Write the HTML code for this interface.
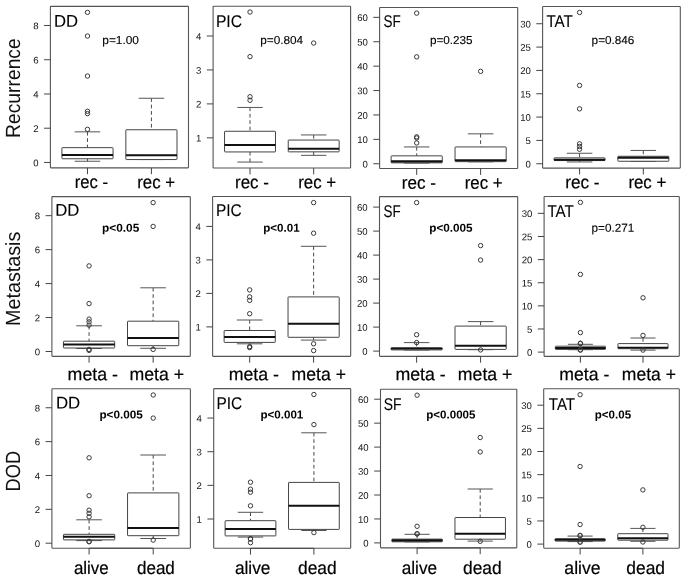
<!DOCTYPE html>
<html><head><meta charset="utf-8"><title>Boxplots</title>
<style>html,body{margin:0;padding:0;background:#fff}body{width:685px;height:579px;overflow:hidden;font-family:"Liberation Sans",sans-serif}</style></head>
<body>
<svg width="685" height="579" viewBox="0 0 685 579" style="display:block;will-change:transform" font-family="Liberation Sans, sans-serif">
<rect width="685" height="579" fill="#fff"/>
<g transform="translate(0,0.35)">
<rect x="50.40" y="6.00" width="138.10" height="161.50" fill="none" stroke="#555" stroke-width="1.1" rx="0.6"/>
<line x1="87.48" y1="167.50" x2="87.48" y2="173.80" stroke="#444" stroke-width="1.0"/>
<line x1="151.42" y1="167.50" x2="151.42" y2="173.80" stroke="#444" stroke-width="1.0"/>
<line x1="44.10" y1="162.10" x2="50.40" y2="162.10" stroke="#444" stroke-width="1.0"/>
<text x="38.60" y="165.80" transform="rotate(0.03 38.60 165.80)" font-size="9.6" text-anchor="end" fill="#111">0</text>
<line x1="44.10" y1="127.86" x2="50.40" y2="127.86" stroke="#444" stroke-width="1.0"/>
<text x="38.60" y="131.56" transform="rotate(0.03 38.60 131.56)" font-size="9.6" text-anchor="end" fill="#111">2</text>
<line x1="44.10" y1="93.62" x2="50.40" y2="93.62" stroke="#444" stroke-width="1.0"/>
<text x="38.60" y="97.32" transform="rotate(0.03 38.60 97.32)" font-size="9.6" text-anchor="end" fill="#111">4</text>
<line x1="44.10" y1="59.38" x2="50.40" y2="59.38" stroke="#444" stroke-width="1.0"/>
<text x="38.60" y="63.08" transform="rotate(0.03 38.60 63.08)" font-size="9.6" text-anchor="end" fill="#111">6</text>
<line x1="44.10" y1="25.14" x2="50.40" y2="25.14" stroke="#444" stroke-width="1.0"/>
<text x="38.60" y="28.84" transform="rotate(0.03 38.60 28.84)" font-size="9.6" text-anchor="end" fill="#111">8</text>
<line x1="87.48" y1="131.50" x2="87.48" y2="147.30" stroke="#333" stroke-width="0.9" stroke-dasharray="3.7 2.7"/>
<line x1="87.48" y1="160.90" x2="87.48" y2="158.40" stroke="#333" stroke-width="0.9" stroke-dasharray="3.7 2.7"/>
<line x1="74.70" y1="131.50" x2="100.27" y2="131.50" stroke="#555" stroke-width="1.0"/>
<line x1="74.70" y1="160.90" x2="100.27" y2="160.90" stroke="#555" stroke-width="1.0"/>
<rect x="61.91" y="147.30" width="51.15" height="11.10" fill="#fff" stroke="#444" stroke-width="1.0" rx="0.5"/>
<line x1="61.91" y1="154.70" x2="113.06" y2="154.70" stroke="#111" stroke-width="2.0"/>
<circle cx="87.48" cy="129.00" r="2.2" fill="none" stroke="#3a3a3a" stroke-width="1.0"/>
<circle cx="87.48" cy="113.30" r="2.2" fill="none" stroke="#3a3a3a" stroke-width="1.0"/>
<circle cx="87.48" cy="110.90" r="2.2" fill="none" stroke="#3a3a3a" stroke-width="1.0"/>
<circle cx="87.48" cy="75.70" r="2.2" fill="none" stroke="#3a3a3a" stroke-width="1.0"/>
<circle cx="87.48" cy="35.70" r="2.2" fill="none" stroke="#3a3a3a" stroke-width="1.0"/>
<circle cx="87.48" cy="12.00" r="2.2" fill="none" stroke="#3a3a3a" stroke-width="1.0"/>
<line x1="151.42" y1="97.90" x2="151.42" y2="129.40" stroke="#333" stroke-width="0.9" stroke-dasharray="3.7 2.7"/>
<line x1="151.42" y1="159.20" x2="151.42" y2="159.20" stroke="#333" stroke-width="0.9" stroke-dasharray="3.7 2.7"/>
<line x1="138.63" y1="97.90" x2="164.20" y2="97.90" stroke="#555" stroke-width="1.0"/>
<line x1="138.63" y1="159.20" x2="164.20" y2="159.20" stroke="#555" stroke-width="1.0"/>
<rect x="125.84" y="129.40" width="51.15" height="29.80" fill="#fff" stroke="#444" stroke-width="1.0" rx="0.5"/>
<line x1="125.84" y1="155.00" x2="176.99" y2="155.00" stroke="#111" stroke-width="2.0"/>
<text x="53.97" y="26.30" transform="rotate(0.03 53.97 26.30)" font-size="17" fill="#000" stroke="#000" stroke-width="0.1" textLength="24.09" lengthAdjust="spacingAndGlyphs">DD</text>
<text x="102.28" y="43.65" transform="rotate(0.03 102.28 43.65)" font-size="11.5" fill="#000" stroke="#000" stroke-width="0.12" textLength="36.73" lengthAdjust="spacingAndGlyphs">p=1.00</text>
<rect x="213.10" y="5.90" width="137.50" height="161.80" fill="none" stroke="#555" stroke-width="1.1" rx="0.6"/>
<line x1="250.02" y1="167.70" x2="250.02" y2="174.00" stroke="#444" stroke-width="1.0"/>
<line x1="313.68" y1="167.70" x2="313.68" y2="174.00" stroke="#444" stroke-width="1.0"/>
<line x1="206.80" y1="137.50" x2="213.10" y2="137.50" stroke="#444" stroke-width="1.0"/>
<text x="201.30" y="141.20" transform="rotate(0.03 201.30 141.20)" font-size="9.6" text-anchor="end" fill="#111">1</text>
<line x1="206.80" y1="103.55" x2="213.10" y2="103.55" stroke="#444" stroke-width="1.0"/>
<text x="201.30" y="107.25" transform="rotate(0.03 201.30 107.25)" font-size="9.6" text-anchor="end" fill="#111">2</text>
<line x1="206.80" y1="69.60" x2="213.10" y2="69.60" stroke="#444" stroke-width="1.0"/>
<text x="201.30" y="73.30" transform="rotate(0.03 201.30 73.30)" font-size="9.6" text-anchor="end" fill="#111">3</text>
<line x1="206.80" y1="35.65" x2="213.10" y2="35.65" stroke="#444" stroke-width="1.0"/>
<text x="201.30" y="39.35" transform="rotate(0.03 201.30 39.35)" font-size="9.6" text-anchor="end" fill="#111">4</text>
<line x1="250.02" y1="107.10" x2="250.02" y2="130.90" stroke="#333" stroke-width="0.9" stroke-dasharray="3.7 2.7"/>
<line x1="250.02" y1="161.70" x2="250.02" y2="151.60" stroke="#333" stroke-width="0.9" stroke-dasharray="3.7 2.7"/>
<line x1="237.29" y1="107.10" x2="262.75" y2="107.10" stroke="#555" stroke-width="1.0"/>
<line x1="237.29" y1="161.70" x2="262.75" y2="161.70" stroke="#555" stroke-width="1.0"/>
<rect x="224.56" y="130.90" width="50.93" height="20.70" fill="#fff" stroke="#444" stroke-width="1.0" rx="0.5"/>
<line x1="224.56" y1="144.60" x2="275.48" y2="144.60" stroke="#111" stroke-width="2.0"/>
<circle cx="250.02" cy="99.90" r="2.2" fill="none" stroke="#3a3a3a" stroke-width="1.0"/>
<circle cx="250.02" cy="96.40" r="2.2" fill="none" stroke="#3a3a3a" stroke-width="1.0"/>
<circle cx="250.02" cy="56.30" r="2.2" fill="none" stroke="#3a3a3a" stroke-width="1.0"/>
<circle cx="250.02" cy="11.70" r="2.2" fill="none" stroke="#3a3a3a" stroke-width="1.0"/>
<line x1="313.68" y1="134.60" x2="313.68" y2="139.70" stroke="#333" stroke-width="0.9" stroke-dasharray="3.7 2.7"/>
<line x1="313.68" y1="155.00" x2="313.68" y2="151.50" stroke="#333" stroke-width="0.9" stroke-dasharray="3.7 2.7"/>
<line x1="300.95" y1="134.60" x2="326.41" y2="134.60" stroke="#555" stroke-width="1.0"/>
<line x1="300.95" y1="155.00" x2="326.41" y2="155.00" stroke="#555" stroke-width="1.0"/>
<rect x="288.22" y="139.70" width="50.93" height="11.80" fill="#fff" stroke="#444" stroke-width="1.0" rx="0.5"/>
<line x1="288.22" y1="148.30" x2="339.14" y2="148.30" stroke="#111" stroke-width="2.0"/>
<circle cx="313.68" cy="42.70" r="2.2" fill="none" stroke="#3a3a3a" stroke-width="1.0"/>
<text x="215.90" y="26.20" transform="rotate(0.03 215.90 26.20)" font-size="17" fill="#000" stroke="#000" stroke-width="0.1" textLength="26.18" lengthAdjust="spacingAndGlyphs">PIC</text>
<text x="260.29" y="43.65" transform="rotate(0.03 260.29 43.65)" font-size="11.5" fill="#000" stroke="#000" stroke-width="0.12" textLength="42.82" lengthAdjust="spacingAndGlyphs">p=0.804</text>
<rect x="379.60" y="7.10" width="138.10" height="161.10" fill="none" stroke="#555" stroke-width="1.1" rx="0.6"/>
<line x1="416.68" y1="168.20" x2="416.68" y2="174.50" stroke="#444" stroke-width="1.0"/>
<line x1="480.62" y1="168.20" x2="480.62" y2="174.50" stroke="#444" stroke-width="1.0"/>
<line x1="373.30" y1="163.40" x2="379.60" y2="163.40" stroke="#444" stroke-width="1.0"/>
<text x="367.80" y="167.10" transform="rotate(0.03 367.80 167.10)" font-size="9.6" text-anchor="end" fill="#111">0</text>
<line x1="373.30" y1="139.00" x2="379.60" y2="139.00" stroke="#444" stroke-width="1.0"/>
<text x="367.80" y="142.70" transform="rotate(0.03 367.80 142.70)" font-size="9.6" text-anchor="end" fill="#111">10</text>
<line x1="373.30" y1="114.60" x2="379.60" y2="114.60" stroke="#444" stroke-width="1.0"/>
<text x="367.80" y="118.30" transform="rotate(0.03 367.80 118.30)" font-size="9.6" text-anchor="end" fill="#111">20</text>
<line x1="373.30" y1="90.20" x2="379.60" y2="90.20" stroke="#444" stroke-width="1.0"/>
<text x="367.80" y="93.90" transform="rotate(0.03 367.80 93.90)" font-size="9.6" text-anchor="end" fill="#111">30</text>
<line x1="373.30" y1="65.80" x2="379.60" y2="65.80" stroke="#444" stroke-width="1.0"/>
<text x="367.80" y="69.50" transform="rotate(0.03 367.80 69.50)" font-size="9.6" text-anchor="end" fill="#111">40</text>
<line x1="373.30" y1="41.40" x2="379.60" y2="41.40" stroke="#444" stroke-width="1.0"/>
<text x="367.80" y="45.10" transform="rotate(0.03 367.80 45.10)" font-size="9.6" text-anchor="end" fill="#111">50</text>
<line x1="373.30" y1="17.00" x2="379.60" y2="17.00" stroke="#444" stroke-width="1.0"/>
<text x="367.80" y="20.70" transform="rotate(0.03 367.80 20.70)" font-size="9.6" text-anchor="end" fill="#111">60</text>
<line x1="416.68" y1="146.60" x2="416.68" y2="155.50" stroke="#333" stroke-width="0.9" stroke-dasharray="3.7 2.7"/>
<line x1="416.68" y1="162.70" x2="416.68" y2="162.50" stroke="#333" stroke-width="0.9" stroke-dasharray="3.7 2.7"/>
<line x1="403.90" y1="146.60" x2="429.47" y2="146.60" stroke="#555" stroke-width="1.0"/>
<line x1="403.90" y1="162.70" x2="429.47" y2="162.70" stroke="#555" stroke-width="1.0"/>
<rect x="391.11" y="155.50" width="51.15" height="7.00" fill="#fff" stroke="#444" stroke-width="1.0" rx="0.5"/>
<line x1="391.11" y1="161.10" x2="442.26" y2="161.10" stroke="#111" stroke-width="2.2"/>
<circle cx="416.68" cy="142.60" r="2.2" fill="none" stroke="#3a3a3a" stroke-width="1.0"/>
<circle cx="416.68" cy="137.60" r="2.2" fill="none" stroke="#3a3a3a" stroke-width="1.0"/>
<circle cx="416.68" cy="136.50" r="2.2" fill="none" stroke="#3a3a3a" stroke-width="1.0"/>
<circle cx="416.68" cy="56.50" r="2.2" fill="none" stroke="#3a3a3a" stroke-width="1.0"/>
<circle cx="416.68" cy="12.80" r="2.2" fill="none" stroke="#3a3a3a" stroke-width="1.0"/>
<line x1="480.62" y1="133.50" x2="480.62" y2="146.60" stroke="#333" stroke-width="0.9" stroke-dasharray="3.7 2.7"/>
<line x1="480.62" y1="161.50" x2="480.62" y2="161.30" stroke="#333" stroke-width="0.9" stroke-dasharray="3.7 2.7"/>
<line x1="467.83" y1="133.50" x2="493.40" y2="133.50" stroke="#555" stroke-width="1.0"/>
<line x1="467.83" y1="161.50" x2="493.40" y2="161.50" stroke="#555" stroke-width="1.0"/>
<rect x="455.04" y="146.60" width="51.15" height="14.70" fill="#fff" stroke="#444" stroke-width="1.0" rx="0.5"/>
<line x1="455.04" y1="159.90" x2="506.19" y2="159.90" stroke="#111" stroke-width="2.0"/>
<circle cx="480.62" cy="71.00" r="2.2" fill="none" stroke="#3a3a3a" stroke-width="1.0"/>
<text x="383.51" y="26.90" transform="rotate(0.03 383.51 26.90)" font-size="17" fill="#000" stroke="#000" stroke-width="0.1" textLength="17.23" lengthAdjust="spacingAndGlyphs">SF</text>
<text x="429.91" y="43.65" transform="rotate(0.03 429.91 43.65)" font-size="11.5" fill="#000" stroke="#000" stroke-width="0.12" textLength="42.71" lengthAdjust="spacingAndGlyphs">p=0.235</text>
<rect x="542.60" y="6.10" width="137.70" height="161.70" fill="none" stroke="#555" stroke-width="1.1" rx="0.6"/>
<line x1="579.58" y1="167.80" x2="579.58" y2="174.10" stroke="#444" stroke-width="1.0"/>
<line x1="643.32" y1="167.80" x2="643.32" y2="174.10" stroke="#444" stroke-width="1.0"/>
<line x1="536.30" y1="163.40" x2="542.60" y2="163.40" stroke="#444" stroke-width="1.0"/>
<text x="530.80" y="167.10" transform="rotate(0.03 530.80 167.10)" font-size="9.6" text-anchor="end" fill="#111">0</text>
<line x1="536.30" y1="140.06" x2="542.60" y2="140.06" stroke="#444" stroke-width="1.0"/>
<text x="530.80" y="143.76" transform="rotate(0.03 530.80 143.76)" font-size="9.6" text-anchor="end" fill="#111">5</text>
<line x1="536.30" y1="116.73" x2="542.60" y2="116.73" stroke="#444" stroke-width="1.0"/>
<text x="530.80" y="120.43" transform="rotate(0.03 530.80 120.43)" font-size="9.6" text-anchor="end" fill="#111">10</text>
<line x1="536.30" y1="93.40" x2="542.60" y2="93.40" stroke="#444" stroke-width="1.0"/>
<text x="530.80" y="97.10" transform="rotate(0.03 530.80 97.10)" font-size="9.6" text-anchor="end" fill="#111">15</text>
<line x1="536.30" y1="70.06" x2="542.60" y2="70.06" stroke="#444" stroke-width="1.0"/>
<text x="530.80" y="73.76" transform="rotate(0.03 530.80 73.76)" font-size="9.6" text-anchor="end" fill="#111">20</text>
<line x1="536.30" y1="46.73" x2="542.60" y2="46.73" stroke="#444" stroke-width="1.0"/>
<text x="530.80" y="50.43" transform="rotate(0.03 530.80 50.43)" font-size="9.6" text-anchor="end" fill="#111">25</text>
<line x1="536.30" y1="23.39" x2="542.60" y2="23.39" stroke="#444" stroke-width="1.0"/>
<text x="530.80" y="27.09" transform="rotate(0.03 530.80 27.09)" font-size="9.6" text-anchor="end" fill="#111">30</text>
<line x1="579.58" y1="152.90" x2="579.58" y2="157.50" stroke="#333" stroke-width="0.9" stroke-dasharray="3.7 2.7"/>
<line x1="579.58" y1="161.60" x2="579.58" y2="160.20" stroke="#333" stroke-width="0.9" stroke-dasharray="3.7 2.7"/>
<line x1="566.83" y1="152.90" x2="592.33" y2="152.90" stroke="#555" stroke-width="1.0"/>
<line x1="566.83" y1="161.60" x2="592.33" y2="161.60" stroke="#555" stroke-width="1.0"/>
<rect x="554.08" y="157.50" width="51.00" height="2.70" fill="#fff" stroke="#444" stroke-width="1.0" rx="0.5"/>
<line x1="554.08" y1="159.40" x2="605.08" y2="159.40" stroke="#111" stroke-width="1.9"/>
<circle cx="579.58" cy="148.90" r="2.2" fill="none" stroke="#3a3a3a" stroke-width="1.0"/>
<circle cx="579.58" cy="146.10" r="2.2" fill="none" stroke="#3a3a3a" stroke-width="1.0"/>
<circle cx="579.58" cy="143.50" r="2.2" fill="none" stroke="#3a3a3a" stroke-width="1.0"/>
<circle cx="579.58" cy="108.50" r="2.2" fill="none" stroke="#3a3a3a" stroke-width="1.0"/>
<circle cx="579.58" cy="85.10" r="2.2" fill="none" stroke="#3a3a3a" stroke-width="1.0"/>
<circle cx="579.58" cy="12.10" r="2.2" fill="none" stroke="#3a3a3a" stroke-width="1.0"/>
<line x1="643.32" y1="150.10" x2="643.32" y2="155.90" stroke="#333" stroke-width="0.9" stroke-dasharray="3.7 2.7"/>
<line x1="643.32" y1="161.10" x2="643.32" y2="160.90" stroke="#333" stroke-width="0.9" stroke-dasharray="3.7 2.7"/>
<line x1="630.57" y1="150.10" x2="656.07" y2="150.10" stroke="#555" stroke-width="1.0"/>
<line x1="630.57" y1="161.10" x2="656.07" y2="161.10" stroke="#555" stroke-width="1.0"/>
<rect x="617.82" y="155.90" width="51.00" height="5.00" fill="#fff" stroke="#444" stroke-width="1.0" rx="0.5"/>
<line x1="617.82" y1="157.40" x2="668.82" y2="157.40" stroke="#111" stroke-width="2.1"/>
<text x="546.39" y="26.40" transform="rotate(0.03 546.39 26.40)" font-size="17" fill="#000" stroke="#000" stroke-width="0.1" textLength="26.45" lengthAdjust="spacingAndGlyphs">TAT</text>
<text x="591.61" y="43.65" transform="rotate(0.03 591.61 43.65)" font-size="11.5" fill="#000" stroke="#000" stroke-width="0.12" textLength="42.73" lengthAdjust="spacingAndGlyphs">p=0.846</text>
<text x="74.65" y="188.00" transform="rotate(0.03 74.65 188.00)" font-size="18" fill="#000" stroke="#000" stroke-width="0.2" textLength="33.30" lengthAdjust="spacingAndGlyphs">rec -</text>
<text x="137.22" y="188.00" transform="rotate(0.03 137.22 188.00)" font-size="18" fill="#000" stroke="#000" stroke-width="0.2" textLength="37.83" lengthAdjust="spacingAndGlyphs">rec +</text>
<text x="235.01" y="188.00" transform="rotate(0.03 235.01 188.00)" font-size="18" fill="#000" stroke="#000" stroke-width="0.2" textLength="33.82" lengthAdjust="spacingAndGlyphs">rec -</text>
<text x="298.20" y="188.00" transform="rotate(0.03 298.20 188.00)" font-size="18" fill="#000" stroke="#000" stroke-width="0.2" textLength="37.95" lengthAdjust="spacingAndGlyphs">rec +</text>
<text x="401.77" y="188.30" transform="rotate(0.03 401.77 188.30)" font-size="18" fill="#000" stroke="#000" stroke-width="0.2" textLength="34.12" lengthAdjust="spacingAndGlyphs">rec -</text>
<text x="464.73" y="188.30" transform="rotate(0.03 464.73 188.30)" font-size="18" fill="#000" stroke="#000" stroke-width="0.2" textLength="37.85" lengthAdjust="spacingAndGlyphs">rec +</text>
<text x="565.16" y="188.00" transform="rotate(0.03 565.16 188.00)" font-size="18" fill="#000" stroke="#000" stroke-width="0.2" textLength="34.43" lengthAdjust="spacingAndGlyphs">rec -</text>
<text x="628.39" y="188.00" transform="rotate(0.03 628.39 188.00)" font-size="18" fill="#000" stroke="#000" stroke-width="0.2" textLength="37.98" lengthAdjust="spacingAndGlyphs">rec +</text>
</g>
<text transform="translate(20.00,88.10) rotate(-89.97)" font-size="20.5" fill="#111" text-anchor="middle" textLength="99.60" lengthAdjust="spacingAndGlyphs">Recurrence</text>
<g transform="translate(0,0.0)">
<rect x="51.90" y="196.60" width="138.40" height="159.80" fill="none" stroke="#555" stroke-width="1.1" rx="0.6"/>
<line x1="89.06" y1="356.40" x2="153.14" y2="356.40" stroke="#444" stroke-width="1.0"/>
<line x1="89.06" y1="356.40" x2="89.06" y2="362.70" stroke="#444" stroke-width="1.0"/>
<line x1="153.14" y1="356.40" x2="153.14" y2="362.70" stroke="#444" stroke-width="1.0"/>
<line x1="45.60" y1="351.50" x2="51.90" y2="351.50" stroke="#444" stroke-width="1.0"/>
<text x="40.10" y="355.20" transform="rotate(0.03 40.10 355.20)" font-size="9.6" text-anchor="end" fill="#111">0</text>
<line x1="45.60" y1="317.54" x2="51.90" y2="317.54" stroke="#444" stroke-width="1.0"/>
<text x="40.10" y="321.24" transform="rotate(0.03 40.10 321.24)" font-size="9.6" text-anchor="end" fill="#111">2</text>
<line x1="45.60" y1="283.58" x2="51.90" y2="283.58" stroke="#444" stroke-width="1.0"/>
<text x="40.10" y="287.28" transform="rotate(0.03 40.10 287.28)" font-size="9.6" text-anchor="end" fill="#111">4</text>
<line x1="45.60" y1="249.62" x2="51.90" y2="249.62" stroke="#444" stroke-width="1.0"/>
<text x="40.10" y="253.32" transform="rotate(0.03 40.10 253.32)" font-size="9.6" text-anchor="end" fill="#111">6</text>
<line x1="45.60" y1="215.66" x2="51.90" y2="215.66" stroke="#444" stroke-width="1.0"/>
<text x="40.10" y="219.36" transform="rotate(0.03 40.10 219.36)" font-size="9.6" text-anchor="end" fill="#111">8</text>
<line x1="89.06" y1="325.80" x2="89.06" y2="341.20" stroke="#333" stroke-width="0.9" stroke-dasharray="3.7 2.7"/>
<line x1="89.06" y1="348.50" x2="89.06" y2="348.00" stroke="#333" stroke-width="0.9" stroke-dasharray="3.7 2.7"/>
<line x1="76.25" y1="325.80" x2="101.88" y2="325.80" stroke="#555" stroke-width="1.0"/>
<line x1="76.25" y1="348.50" x2="101.88" y2="348.50" stroke="#555" stroke-width="1.0"/>
<rect x="63.43" y="341.20" width="51.26" height="6.80" fill="#fff" stroke="#444" stroke-width="1.0" rx="0.5"/>
<line x1="63.43" y1="344.40" x2="114.69" y2="344.40" stroke="#111" stroke-width="2.0"/>
<circle cx="89.06" cy="325.10" r="2.2" fill="none" stroke="#3a3a3a" stroke-width="1.0"/>
<circle cx="89.06" cy="321.90" r="2.2" fill="none" stroke="#3a3a3a" stroke-width="1.0"/>
<circle cx="89.06" cy="319.10" r="2.2" fill="none" stroke="#3a3a3a" stroke-width="1.0"/>
<circle cx="89.06" cy="303.60" r="2.2" fill="none" stroke="#3a3a3a" stroke-width="1.0"/>
<circle cx="89.06" cy="265.90" r="2.2" fill="none" stroke="#3a3a3a" stroke-width="1.0"/>
<circle cx="89.06" cy="349.40" r="2.2" fill="none" stroke="#3a3a3a" stroke-width="1.0"/>
<circle cx="89.06" cy="350.40" r="2.2" fill="none" stroke="#3a3a3a" stroke-width="1.0"/>
<line x1="153.14" y1="287.80" x2="153.14" y2="321.20" stroke="#333" stroke-width="0.9" stroke-dasharray="3.7 2.7"/>
<line x1="153.14" y1="348.30" x2="153.14" y2="345.70" stroke="#333" stroke-width="0.9" stroke-dasharray="3.7 2.7"/>
<line x1="140.32" y1="287.80" x2="165.95" y2="287.80" stroke="#555" stroke-width="1.0"/>
<line x1="140.32" y1="348.30" x2="165.95" y2="348.30" stroke="#555" stroke-width="1.0"/>
<rect x="127.51" y="321.20" width="51.26" height="24.50" fill="#fff" stroke="#444" stroke-width="1.0" rx="0.5"/>
<line x1="127.51" y1="338.00" x2="178.77" y2="338.00" stroke="#111" stroke-width="2.0"/>
<circle cx="153.14" cy="349.40" r="2.2" fill="none" stroke="#3a3a3a" stroke-width="1.0"/>
<circle cx="153.14" cy="226.40" r="2.2" fill="none" stroke="#3a3a3a" stroke-width="1.0"/>
<circle cx="153.14" cy="202.60" r="2.2" fill="none" stroke="#3a3a3a" stroke-width="1.0"/>
<text x="55.30" y="215.80" transform="rotate(0.03 55.30 215.80)" font-size="17" fill="#000" stroke="#000" stroke-width="0.1" textLength="24.10" lengthAdjust="spacingAndGlyphs">DD</text>
<text x="102.07" y="231.65" transform="rotate(0.03 102.07 231.65)" font-size="11.5" fill="#000" stroke="#000" stroke-width="0" font-weight="bold" textLength="37.18" lengthAdjust="spacingAndGlyphs">p&lt;0.05</text>
<rect x="212.60" y="196.50" width="138.10" height="159.90" fill="none" stroke="#555" stroke-width="1.1" rx="0.6"/>
<line x1="249.68" y1="356.40" x2="313.62" y2="356.40" stroke="#444" stroke-width="1.0"/>
<line x1="249.68" y1="356.40" x2="249.68" y2="362.70" stroke="#444" stroke-width="1.0"/>
<line x1="313.62" y1="356.40" x2="313.62" y2="362.70" stroke="#444" stroke-width="1.0"/>
<line x1="206.30" y1="326.90" x2="212.60" y2="326.90" stroke="#444" stroke-width="1.0"/>
<text x="200.80" y="330.60" transform="rotate(0.03 200.80 330.60)" font-size="9.6" text-anchor="end" fill="#111">1</text>
<line x1="206.30" y1="293.40" x2="212.60" y2="293.40" stroke="#444" stroke-width="1.0"/>
<text x="200.80" y="297.10" transform="rotate(0.03 200.80 297.10)" font-size="9.6" text-anchor="end" fill="#111">2</text>
<line x1="206.30" y1="259.90" x2="212.60" y2="259.90" stroke="#444" stroke-width="1.0"/>
<text x="200.80" y="263.60" transform="rotate(0.03 200.80 263.60)" font-size="9.6" text-anchor="end" fill="#111">3</text>
<line x1="206.30" y1="226.40" x2="212.60" y2="226.40" stroke="#444" stroke-width="1.0"/>
<text x="200.80" y="230.10" transform="rotate(0.03 200.80 230.10)" font-size="9.6" text-anchor="end" fill="#111">4</text>
<line x1="249.68" y1="320.00" x2="249.68" y2="330.50" stroke="#333" stroke-width="0.9" stroke-dasharray="3.7 2.7"/>
<line x1="249.68" y1="343.80" x2="249.68" y2="342.40" stroke="#333" stroke-width="0.9" stroke-dasharray="3.7 2.7"/>
<line x1="236.90" y1="320.00" x2="262.47" y2="320.00" stroke="#555" stroke-width="1.0"/>
<line x1="236.90" y1="343.80" x2="262.47" y2="343.80" stroke="#555" stroke-width="1.0"/>
<rect x="224.11" y="330.50" width="51.15" height="11.90" fill="#fff" stroke="#444" stroke-width="1.0" rx="0.5"/>
<line x1="224.11" y1="337.00" x2="275.26" y2="337.00" stroke="#111" stroke-width="2.0"/>
<circle cx="249.68" cy="313.70" r="2.2" fill="none" stroke="#3a3a3a" stroke-width="1.0"/>
<circle cx="249.68" cy="300.40" r="2.2" fill="none" stroke="#3a3a3a" stroke-width="1.0"/>
<circle cx="249.68" cy="296.90" r="2.2" fill="none" stroke="#3a3a3a" stroke-width="1.0"/>
<circle cx="249.68" cy="289.90" r="2.2" fill="none" stroke="#3a3a3a" stroke-width="1.0"/>
<circle cx="249.68" cy="346.60" r="2.2" fill="none" stroke="#3a3a3a" stroke-width="1.0"/>
<circle cx="249.68" cy="347.60" r="2.2" fill="none" stroke="#3a3a3a" stroke-width="1.0"/>
<line x1="313.62" y1="246.30" x2="313.62" y2="296.90" stroke="#333" stroke-width="0.9" stroke-dasharray="3.7 2.7"/>
<line x1="313.62" y1="340.10" x2="313.62" y2="337.30" stroke="#333" stroke-width="0.9" stroke-dasharray="3.7 2.7"/>
<line x1="300.83" y1="246.30" x2="326.40" y2="246.30" stroke="#555" stroke-width="1.0"/>
<line x1="300.83" y1="340.10" x2="326.40" y2="340.10" stroke="#555" stroke-width="1.0"/>
<rect x="288.04" y="296.90" width="51.15" height="40.40" fill="#fff" stroke="#444" stroke-width="1.0" rx="0.5"/>
<line x1="288.04" y1="323.70" x2="339.19" y2="323.70" stroke="#111" stroke-width="2.0"/>
<circle cx="313.62" cy="343.80" r="2.2" fill="none" stroke="#3a3a3a" stroke-width="1.0"/>
<circle cx="313.62" cy="350.60" r="2.2" fill="none" stroke="#3a3a3a" stroke-width="1.0"/>
<circle cx="313.62" cy="233.20" r="2.2" fill="none" stroke="#3a3a3a" stroke-width="1.0"/>
<circle cx="313.62" cy="202.60" r="2.2" fill="none" stroke="#3a3a3a" stroke-width="1.0"/>
<text x="215.95" y="215.70" transform="rotate(0.03 215.95 215.70)" font-size="17" fill="#000" stroke="#000" stroke-width="0.1" textLength="25.83" lengthAdjust="spacingAndGlyphs">PIC</text>
<text x="263.29" y="231.65" transform="rotate(0.03 263.29 231.65)" font-size="11.5" fill="#000" stroke="#000" stroke-width="0" font-weight="bold" textLength="36.38" lengthAdjust="spacingAndGlyphs">p&lt;0.01</text>
<rect x="379.50" y="196.60" width="138.20" height="159.80" fill="none" stroke="#555" stroke-width="1.1" rx="0.6"/>
<line x1="416.61" y1="356.40" x2="480.59" y2="356.40" stroke="#444" stroke-width="1.0"/>
<line x1="416.61" y1="356.40" x2="416.61" y2="362.70" stroke="#444" stroke-width="1.0"/>
<line x1="480.59" y1="356.40" x2="480.59" y2="362.70" stroke="#444" stroke-width="1.0"/>
<line x1="373.20" y1="351.10" x2="379.50" y2="351.10" stroke="#444" stroke-width="1.0"/>
<text x="367.70" y="354.80" transform="rotate(0.03 367.70 354.80)" font-size="9.6" text-anchor="end" fill="#111">0</text>
<line x1="373.20" y1="327.10" x2="379.50" y2="327.10" stroke="#444" stroke-width="1.0"/>
<text x="367.70" y="330.80" transform="rotate(0.03 367.70 330.80)" font-size="9.6" text-anchor="end" fill="#111">10</text>
<line x1="373.20" y1="303.10" x2="379.50" y2="303.10" stroke="#444" stroke-width="1.0"/>
<text x="367.70" y="306.80" transform="rotate(0.03 367.70 306.80)" font-size="9.6" text-anchor="end" fill="#111">20</text>
<line x1="373.20" y1="279.10" x2="379.50" y2="279.10" stroke="#444" stroke-width="1.0"/>
<text x="367.70" y="282.80" transform="rotate(0.03 367.70 282.80)" font-size="9.6" text-anchor="end" fill="#111">30</text>
<line x1="373.20" y1="255.10" x2="379.50" y2="255.10" stroke="#444" stroke-width="1.0"/>
<text x="367.70" y="258.80" transform="rotate(0.03 367.70 258.80)" font-size="9.6" text-anchor="end" fill="#111">40</text>
<line x1="373.20" y1="231.10" x2="379.50" y2="231.10" stroke="#444" stroke-width="1.0"/>
<text x="367.70" y="234.80" transform="rotate(0.03 367.70 234.80)" font-size="9.6" text-anchor="end" fill="#111">50</text>
<line x1="373.20" y1="207.10" x2="379.50" y2="207.10" stroke="#444" stroke-width="1.0"/>
<text x="367.70" y="210.80" transform="rotate(0.03 367.70 210.80)" font-size="9.6" text-anchor="end" fill="#111">60</text>
<line x1="416.61" y1="342.60" x2="416.61" y2="347.60" stroke="#333" stroke-width="0.9" stroke-dasharray="3.7 2.7"/>
<line x1="416.61" y1="350.00" x2="416.61" y2="349.90" stroke="#333" stroke-width="0.9" stroke-dasharray="3.7 2.7"/>
<line x1="403.81" y1="342.60" x2="429.41" y2="342.60" stroke="#555" stroke-width="1.0"/>
<line x1="403.81" y1="350.00" x2="429.41" y2="350.00" stroke="#555" stroke-width="1.0"/>
<rect x="391.02" y="347.60" width="51.19" height="2.30" fill="#fff" stroke="#444" stroke-width="1.0" rx="0.5"/>
<line x1="391.02" y1="348.75" x2="442.20" y2="348.75" stroke="#111" stroke-width="1.7"/>
<circle cx="416.61" cy="342.60" r="2.2" fill="none" stroke="#3a3a3a" stroke-width="1.0"/>
<circle cx="416.61" cy="334.70" r="2.2" fill="none" stroke="#3a3a3a" stroke-width="1.0"/>
<circle cx="416.61" cy="202.60" r="2.2" fill="none" stroke="#3a3a3a" stroke-width="1.0"/>
<line x1="480.59" y1="321.60" x2="480.59" y2="326.10" stroke="#333" stroke-width="0.9" stroke-dasharray="3.7 2.7"/>
<line x1="480.59" y1="349.70" x2="480.59" y2="349.40" stroke="#333" stroke-width="0.9" stroke-dasharray="3.7 2.7"/>
<line x1="467.79" y1="321.60" x2="493.39" y2="321.60" stroke="#555" stroke-width="1.0"/>
<line x1="467.79" y1="349.70" x2="493.39" y2="349.70" stroke="#555" stroke-width="1.0"/>
<rect x="455.00" y="326.10" width="51.19" height="23.30" fill="#fff" stroke="#444" stroke-width="1.0" rx="0.5"/>
<line x1="455.00" y1="345.70" x2="506.18" y2="345.70" stroke="#111" stroke-width="2.0"/>
<circle cx="480.59" cy="349.90" r="2.2" fill="none" stroke="#3a3a3a" stroke-width="1.0"/>
<circle cx="480.59" cy="260.10" r="2.2" fill="none" stroke="#3a3a3a" stroke-width="1.0"/>
<circle cx="480.59" cy="245.60" r="2.2" fill="none" stroke="#3a3a3a" stroke-width="1.0"/>
<text x="383.53" y="216.90" transform="rotate(0.03 383.53 216.90)" font-size="17" fill="#000" stroke="#000" stroke-width="0.1" textLength="17.18" lengthAdjust="spacingAndGlyphs">SF</text>
<text x="429.26" y="231.65" transform="rotate(0.03 429.26 231.65)" font-size="11.5" fill="#000" stroke="#000" stroke-width="0" font-weight="bold" textLength="43.35" lengthAdjust="spacingAndGlyphs">p&lt;0.005</text>
<rect x="544.10" y="196.50" width="135.20" height="159.90" fill="none" stroke="#555" stroke-width="1.1" rx="0.6"/>
<line x1="580.40" y1="356.40" x2="643.00" y2="356.40" stroke="#444" stroke-width="1.0"/>
<line x1="580.40" y1="356.40" x2="580.40" y2="362.70" stroke="#444" stroke-width="1.0"/>
<line x1="643.00" y1="356.40" x2="643.00" y2="362.70" stroke="#444" stroke-width="1.0"/>
<line x1="537.80" y1="352.10" x2="544.10" y2="352.10" stroke="#444" stroke-width="1.0"/>
<text x="532.30" y="355.80" transform="rotate(0.03 532.30 355.80)" font-size="9.6" text-anchor="end" fill="#111">0</text>
<line x1="537.80" y1="328.98" x2="544.10" y2="328.98" stroke="#444" stroke-width="1.0"/>
<text x="532.30" y="332.68" transform="rotate(0.03 532.30 332.68)" font-size="9.6" text-anchor="end" fill="#111">5</text>
<line x1="537.80" y1="305.85" x2="544.10" y2="305.85" stroke="#444" stroke-width="1.0"/>
<text x="532.30" y="309.55" transform="rotate(0.03 532.30 309.55)" font-size="9.6" text-anchor="end" fill="#111">10</text>
<line x1="537.80" y1="282.73" x2="544.10" y2="282.73" stroke="#444" stroke-width="1.0"/>
<text x="532.30" y="286.43" transform="rotate(0.03 532.30 286.43)" font-size="9.6" text-anchor="end" fill="#111">15</text>
<line x1="537.80" y1="259.60" x2="544.10" y2="259.60" stroke="#444" stroke-width="1.0"/>
<text x="532.30" y="263.30" transform="rotate(0.03 532.30 263.30)" font-size="9.6" text-anchor="end" fill="#111">20</text>
<line x1="537.80" y1="236.48" x2="544.10" y2="236.48" stroke="#444" stroke-width="1.0"/>
<text x="532.30" y="240.18" transform="rotate(0.03 532.30 240.18)" font-size="9.6" text-anchor="end" fill="#111">25</text>
<line x1="537.80" y1="213.35" x2="544.10" y2="213.35" stroke="#444" stroke-width="1.0"/>
<text x="532.30" y="217.05" transform="rotate(0.03 532.30 217.05)" font-size="9.6" text-anchor="end" fill="#111">30</text>
<line x1="580.40" y1="344.30" x2="580.40" y2="346.20" stroke="#333" stroke-width="0.9" stroke-dasharray="3.7 2.7"/>
<line x1="580.40" y1="349.70" x2="580.40" y2="349.40" stroke="#333" stroke-width="0.9" stroke-dasharray="3.7 2.7"/>
<line x1="567.89" y1="344.30" x2="592.92" y2="344.30" stroke="#555" stroke-width="1.0"/>
<line x1="567.89" y1="349.70" x2="592.92" y2="349.70" stroke="#555" stroke-width="1.0"/>
<rect x="555.37" y="346.20" width="50.07" height="3.20" fill="#fff" stroke="#444" stroke-width="1.0" rx="0.5"/>
<line x1="555.37" y1="348.00" x2="605.44" y2="348.00" stroke="#111" stroke-width="2.0"/>
<circle cx="580.40" cy="343.60" r="2.2" fill="none" stroke="#3a3a3a" stroke-width="1.0"/>
<circle cx="580.40" cy="343.20" r="2.2" fill="none" stroke="#3a3a3a" stroke-width="1.0"/>
<circle cx="580.40" cy="332.60" r="2.2" fill="none" stroke="#3a3a3a" stroke-width="1.0"/>
<circle cx="580.40" cy="274.40" r="2.2" fill="none" stroke="#3a3a3a" stroke-width="1.0"/>
<circle cx="580.40" cy="202.40" r="2.2" fill="none" stroke="#3a3a3a" stroke-width="1.0"/>
<circle cx="580.40" cy="350.10" r="2.2" fill="none" stroke="#3a3a3a" stroke-width="1.0"/>
<circle cx="580.40" cy="349.80" r="2.2" fill="none" stroke="#3a3a3a" stroke-width="1.0"/>
<line x1="643.00" y1="338.00" x2="643.00" y2="343.60" stroke="#333" stroke-width="0.9" stroke-dasharray="3.7 2.7"/>
<line x1="643.00" y1="350.10" x2="643.00" y2="348.70" stroke="#333" stroke-width="0.9" stroke-dasharray="3.7 2.7"/>
<line x1="630.48" y1="338.00" x2="655.51" y2="338.00" stroke="#555" stroke-width="1.0"/>
<line x1="630.48" y1="350.10" x2="655.51" y2="350.10" stroke="#555" stroke-width="1.0"/>
<rect x="617.96" y="343.60" width="50.07" height="5.10" fill="#fff" stroke="#444" stroke-width="1.0" rx="0.5"/>
<line x1="617.96" y1="347.60" x2="668.03" y2="347.60" stroke="#111" stroke-width="1.9"/>
<circle cx="643.00" cy="335.40" r="2.2" fill="none" stroke="#3a3a3a" stroke-width="1.0"/>
<circle cx="643.00" cy="297.80" r="2.2" fill="none" stroke="#3a3a3a" stroke-width="1.0"/>
<circle cx="643.00" cy="350.10" r="2.2" fill="none" stroke="#3a3a3a" stroke-width="1.0"/>
<text x="547.39" y="216.90" transform="rotate(0.03 547.39 216.90)" font-size="17" fill="#000" stroke="#000" stroke-width="0.1" textLength="26.45" lengthAdjust="spacingAndGlyphs">TAT</text>
<text x="591.60" y="231.65" transform="rotate(0.03 591.60 231.65)" font-size="11.5" fill="#000" stroke="#000" stroke-width="0.12" textLength="42.65" lengthAdjust="spacingAndGlyphs">p=0.271</text>
<text x="67.58" y="380.30" transform="rotate(0.03 67.58 380.30)" font-size="18" fill="#000" stroke="#000" stroke-width="0.2" textLength="50.37" lengthAdjust="spacingAndGlyphs">meta -</text>
<text x="129.43" y="380.30" transform="rotate(0.03 129.43 380.30)" font-size="18" fill="#000" stroke="#000" stroke-width="0.2" textLength="54.56" lengthAdjust="spacingAndGlyphs">meta +</text>
<text x="228.72" y="380.30" transform="rotate(0.03 228.72 380.30)" font-size="18" fill="#000" stroke="#000" stroke-width="0.2" textLength="50.25" lengthAdjust="spacingAndGlyphs">meta -</text>
<text x="291.60" y="380.30" transform="rotate(0.03 291.60 380.30)" font-size="18" fill="#000" stroke="#000" stroke-width="0.2" textLength="54.37" lengthAdjust="spacingAndGlyphs">meta +</text>
<text x="395.46" y="380.30" transform="rotate(0.03 395.46 380.30)" font-size="18" fill="#000" stroke="#000" stroke-width="0.2" textLength="50.27" lengthAdjust="spacingAndGlyphs">meta -</text>
<text x="457.85" y="380.30" transform="rotate(0.03 457.85 380.30)" font-size="18" fill="#000" stroke="#000" stroke-width="0.2" textLength="54.52" lengthAdjust="spacingAndGlyphs">meta +</text>
<text x="559.30" y="380.30" transform="rotate(0.03 559.30 380.30)" font-size="18" fill="#000" stroke="#000" stroke-width="0.2" textLength="49.99" lengthAdjust="spacingAndGlyphs">meta -</text>
<text x="621.87" y="380.30" transform="rotate(0.03 621.87 380.30)" font-size="18" fill="#000" stroke="#000" stroke-width="0.2" textLength="54.01" lengthAdjust="spacingAndGlyphs">meta +</text>
</g>
<text transform="translate(20.00,278.80) rotate(-89.97)" font-size="20.5" fill="#111" text-anchor="middle" textLength="94.20" lengthAdjust="spacingAndGlyphs">Metastasis</text>
<g transform="translate(0,0.0)">
<rect x="51.90" y="388.80" width="138.50" height="159.40" fill="none" stroke="#555" stroke-width="1.1" rx="0.6"/>
<line x1="89.09" y1="548.20" x2="153.21" y2="548.20" stroke="#444" stroke-width="1.0"/>
<line x1="89.09" y1="548.20" x2="89.09" y2="554.50" stroke="#444" stroke-width="1.0"/>
<line x1="153.21" y1="548.20" x2="153.21" y2="554.50" stroke="#444" stroke-width="1.0"/>
<line x1="45.60" y1="543.20" x2="51.90" y2="543.20" stroke="#444" stroke-width="1.0"/>
<text x="40.10" y="546.90" transform="rotate(0.03 40.10 546.90)" font-size="9.6" text-anchor="end" fill="#111">0</text>
<line x1="45.60" y1="509.34" x2="51.90" y2="509.34" stroke="#444" stroke-width="1.0"/>
<text x="40.10" y="513.04" transform="rotate(0.03 40.10 513.04)" font-size="9.6" text-anchor="end" fill="#111">2</text>
<line x1="45.60" y1="475.48" x2="51.90" y2="475.48" stroke="#444" stroke-width="1.0"/>
<text x="40.10" y="479.18" transform="rotate(0.03 40.10 479.18)" font-size="9.6" text-anchor="end" fill="#111">4</text>
<line x1="45.60" y1="441.62" x2="51.90" y2="441.62" stroke="#444" stroke-width="1.0"/>
<text x="40.10" y="445.32" transform="rotate(0.03 40.10 445.32)" font-size="9.6" text-anchor="end" fill="#111">6</text>
<line x1="45.60" y1="407.76" x2="51.90" y2="407.76" stroke="#444" stroke-width="1.0"/>
<text x="40.10" y="411.46" transform="rotate(0.03 40.10 411.46)" font-size="9.6" text-anchor="end" fill="#111">8</text>
<line x1="89.09" y1="519.80" x2="89.09" y2="534.30" stroke="#333" stroke-width="0.9" stroke-dasharray="3.7 2.7"/>
<line x1="89.09" y1="540.60" x2="89.09" y2="539.90" stroke="#333" stroke-width="0.9" stroke-dasharray="3.7 2.7"/>
<line x1="76.27" y1="519.80" x2="101.91" y2="519.80" stroke="#555" stroke-width="1.0"/>
<line x1="76.27" y1="540.60" x2="101.91" y2="540.60" stroke="#555" stroke-width="1.0"/>
<rect x="63.44" y="534.30" width="51.30" height="5.60" fill="#fff" stroke="#444" stroke-width="1.0" rx="0.5"/>
<line x1="63.44" y1="536.70" x2="114.74" y2="536.70" stroke="#111" stroke-width="2.0"/>
<circle cx="89.09" cy="516.80" r="2.2" fill="none" stroke="#3a3a3a" stroke-width="1.0"/>
<circle cx="89.09" cy="513.30" r="2.2" fill="none" stroke="#3a3a3a" stroke-width="1.0"/>
<circle cx="89.09" cy="510.20" r="2.2" fill="none" stroke="#3a3a3a" stroke-width="1.0"/>
<circle cx="89.09" cy="495.70" r="2.2" fill="none" stroke="#3a3a3a" stroke-width="1.0"/>
<circle cx="89.09" cy="457.80" r="2.2" fill="none" stroke="#3a3a3a" stroke-width="1.0"/>
<circle cx="89.09" cy="541.80" r="2.2" fill="none" stroke="#3a3a3a" stroke-width="1.0"/>
<circle cx="89.09" cy="541.40" r="2.2" fill="none" stroke="#3a3a3a" stroke-width="1.0"/>
<line x1="153.21" y1="455.00" x2="153.21" y2="492.90" stroke="#333" stroke-width="0.9" stroke-dasharray="3.7 2.7"/>
<line x1="153.21" y1="538.50" x2="153.21" y2="535.70" stroke="#333" stroke-width="0.9" stroke-dasharray="3.7 2.7"/>
<line x1="140.39" y1="455.00" x2="166.03" y2="455.00" stroke="#555" stroke-width="1.0"/>
<line x1="140.39" y1="538.50" x2="166.03" y2="538.50" stroke="#555" stroke-width="1.0"/>
<rect x="127.56" y="492.90" width="51.30" height="42.80" fill="#fff" stroke="#444" stroke-width="1.0" rx="0.5"/>
<line x1="127.56" y1="528.00" x2="178.86" y2="528.00" stroke="#111" stroke-width="2.0"/>
<circle cx="153.21" cy="540.10" r="2.2" fill="none" stroke="#3a3a3a" stroke-width="1.0"/>
<circle cx="153.21" cy="418.10" r="2.2" fill="none" stroke="#3a3a3a" stroke-width="1.0"/>
<circle cx="153.21" cy="395.00" r="2.2" fill="none" stroke="#3a3a3a" stroke-width="1.0"/>
<text x="55.89" y="408.50" transform="rotate(0.03 55.89 408.50)" font-size="17" fill="#000" stroke="#000" stroke-width="0.1" textLength="24.33" lengthAdjust="spacingAndGlyphs">DD</text>
<text x="99.41" y="418.55" transform="rotate(0.03 99.41 418.55)" font-size="11.5" fill="#000" stroke="#000" stroke-width="0" font-weight="bold" textLength="43.40" lengthAdjust="spacingAndGlyphs">p&lt;0.005</text>
<rect x="213.70" y="388.60" width="137.00" height="159.70" fill="none" stroke="#555" stroke-width="1.1" rx="0.6"/>
<line x1="250.49" y1="548.30" x2="313.91" y2="548.30" stroke="#444" stroke-width="1.0"/>
<line x1="250.49" y1="548.30" x2="250.49" y2="554.60" stroke="#444" stroke-width="1.0"/>
<line x1="313.91" y1="548.30" x2="313.91" y2="554.60" stroke="#444" stroke-width="1.0"/>
<line x1="207.40" y1="519.00" x2="213.70" y2="519.00" stroke="#444" stroke-width="1.0"/>
<text x="201.90" y="522.70" transform="rotate(0.03 201.90 522.70)" font-size="9.6" text-anchor="end" fill="#111">1</text>
<line x1="207.40" y1="485.35" x2="213.70" y2="485.35" stroke="#444" stroke-width="1.0"/>
<text x="201.90" y="489.05" transform="rotate(0.03 201.90 489.05)" font-size="9.6" text-anchor="end" fill="#111">2</text>
<line x1="207.40" y1="451.70" x2="213.70" y2="451.70" stroke="#444" stroke-width="1.0"/>
<text x="201.90" y="455.40" transform="rotate(0.03 201.90 455.40)" font-size="9.6" text-anchor="end" fill="#111">3</text>
<line x1="207.40" y1="418.05" x2="213.70" y2="418.05" stroke="#444" stroke-width="1.0"/>
<text x="201.90" y="421.75" transform="rotate(0.03 201.90 421.75)" font-size="9.6" text-anchor="end" fill="#111">4</text>
<line x1="250.49" y1="512.30" x2="250.49" y2="520.70" stroke="#333" stroke-width="0.9" stroke-dasharray="3.7 2.7"/>
<line x1="250.49" y1="537.10" x2="250.49" y2="535.90" stroke="#333" stroke-width="0.9" stroke-dasharray="3.7 2.7"/>
<line x1="237.80" y1="512.30" x2="263.17" y2="512.30" stroke="#555" stroke-width="1.0"/>
<line x1="237.80" y1="537.10" x2="263.17" y2="537.10" stroke="#555" stroke-width="1.0"/>
<rect x="225.12" y="520.70" width="50.74" height="15.20" fill="#fff" stroke="#444" stroke-width="1.0" rx="0.5"/>
<line x1="225.12" y1="529.10" x2="275.86" y2="529.10" stroke="#111" stroke-width="2.0"/>
<circle cx="250.49" cy="505.80" r="2.2" fill="none" stroke="#3a3a3a" stroke-width="1.0"/>
<circle cx="250.49" cy="492.20" r="2.2" fill="none" stroke="#3a3a3a" stroke-width="1.0"/>
<circle cx="250.49" cy="489.20" r="2.2" fill="none" stroke="#3a3a3a" stroke-width="1.0"/>
<circle cx="250.49" cy="482.20" r="2.2" fill="none" stroke="#3a3a3a" stroke-width="1.0"/>
<circle cx="250.49" cy="539.00" r="2.2" fill="none" stroke="#3a3a3a" stroke-width="1.0"/>
<circle cx="250.49" cy="538.60" r="2.2" fill="none" stroke="#3a3a3a" stroke-width="1.0"/>
<circle cx="250.49" cy="542.70" r="2.2" fill="none" stroke="#3a3a3a" stroke-width="1.0"/>
<line x1="313.91" y1="432.80" x2="313.91" y2="482.40" stroke="#333" stroke-width="0.9" stroke-dasharray="3.7 2.7"/>
<line x1="313.91" y1="530.50" x2="313.91" y2="529.40" stroke="#333" stroke-width="0.9" stroke-dasharray="3.7 2.7"/>
<line x1="301.23" y1="432.80" x2="326.60" y2="432.80" stroke="#555" stroke-width="1.0"/>
<line x1="301.23" y1="530.50" x2="326.60" y2="530.50" stroke="#555" stroke-width="1.0"/>
<rect x="288.54" y="482.40" width="50.74" height="47.00" fill="#fff" stroke="#444" stroke-width="1.0" rx="0.5"/>
<line x1="288.54" y1="505.80" x2="339.28" y2="505.80" stroke="#111" stroke-width="2.0"/>
<circle cx="313.91" cy="532.60" r="2.2" fill="none" stroke="#3a3a3a" stroke-width="1.0"/>
<circle cx="313.91" cy="424.60" r="2.2" fill="none" stroke="#3a3a3a" stroke-width="1.0"/>
<circle cx="313.91" cy="394.50" r="2.2" fill="none" stroke="#3a3a3a" stroke-width="1.0"/>
<text x="216.40" y="408.50" transform="rotate(0.03 216.40 408.50)" font-size="17" fill="#000" stroke="#000" stroke-width="0.1" textLength="25.77" lengthAdjust="spacingAndGlyphs">PIC</text>
<text x="260.40" y="418.55" transform="rotate(0.03 260.40 418.55)" font-size="11.5" fill="#000" stroke="#000" stroke-width="0" font-weight="bold" textLength="42.94" lengthAdjust="spacingAndGlyphs">p&lt;0.001</text>
<rect x="380.50" y="389.20" width="136.30" height="158.70" fill="none" stroke="#555" stroke-width="1.1" rx="0.6"/>
<line x1="417.10" y1="547.90" x2="480.20" y2="547.90" stroke="#444" stroke-width="1.0"/>
<line x1="417.10" y1="547.90" x2="417.10" y2="554.20" stroke="#444" stroke-width="1.0"/>
<line x1="480.20" y1="547.90" x2="480.20" y2="554.20" stroke="#444" stroke-width="1.0"/>
<line x1="374.20" y1="542.90" x2="380.50" y2="542.90" stroke="#444" stroke-width="1.0"/>
<text x="368.70" y="546.60" transform="rotate(0.03 368.70 546.60)" font-size="9.6" text-anchor="end" fill="#111">0</text>
<line x1="374.20" y1="518.95" x2="380.50" y2="518.95" stroke="#444" stroke-width="1.0"/>
<text x="368.70" y="522.65" transform="rotate(0.03 368.70 522.65)" font-size="9.6" text-anchor="end" fill="#111">10</text>
<line x1="374.20" y1="495.00" x2="380.50" y2="495.00" stroke="#444" stroke-width="1.0"/>
<text x="368.70" y="498.70" transform="rotate(0.03 368.70 498.70)" font-size="9.6" text-anchor="end" fill="#111">20</text>
<line x1="374.20" y1="471.05" x2="380.50" y2="471.05" stroke="#444" stroke-width="1.0"/>
<text x="368.70" y="474.75" transform="rotate(0.03 368.70 474.75)" font-size="9.6" text-anchor="end" fill="#111">30</text>
<line x1="374.20" y1="447.10" x2="380.50" y2="447.10" stroke="#444" stroke-width="1.0"/>
<text x="368.70" y="450.80" transform="rotate(0.03 368.70 450.80)" font-size="9.6" text-anchor="end" fill="#111">40</text>
<line x1="374.20" y1="423.15" x2="380.50" y2="423.15" stroke="#444" stroke-width="1.0"/>
<text x="368.70" y="426.85" transform="rotate(0.03 368.70 426.85)" font-size="9.6" text-anchor="end" fill="#111">50</text>
<line x1="374.20" y1="399.20" x2="380.50" y2="399.20" stroke="#444" stroke-width="1.0"/>
<text x="368.70" y="402.90" transform="rotate(0.03 368.70 402.90)" font-size="9.6" text-anchor="end" fill="#111">60</text>
<line x1="417.10" y1="534.30" x2="417.10" y2="539.10" stroke="#333" stroke-width="0.9" stroke-dasharray="3.7 2.7"/>
<line x1="417.10" y1="541.90" x2="417.10" y2="541.80" stroke="#333" stroke-width="0.9" stroke-dasharray="3.7 2.7"/>
<line x1="404.48" y1="534.30" x2="429.72" y2="534.30" stroke="#555" stroke-width="1.0"/>
<line x1="404.48" y1="541.90" x2="429.72" y2="541.90" stroke="#555" stroke-width="1.0"/>
<rect x="391.86" y="539.10" width="50.48" height="2.70" fill="#fff" stroke="#444" stroke-width="1.0" rx="0.5"/>
<line x1="391.86" y1="540.45" x2="442.34" y2="540.45" stroke="#111" stroke-width="2.2"/>
<circle cx="417.10" cy="534.00" r="2.2" fill="none" stroke="#3a3a3a" stroke-width="1.0"/>
<circle cx="417.10" cy="533.70" r="2.2" fill="none" stroke="#3a3a3a" stroke-width="1.0"/>
<circle cx="417.10" cy="526.30" r="2.2" fill="none" stroke="#3a3a3a" stroke-width="1.0"/>
<circle cx="417.10" cy="395.20" r="2.2" fill="none" stroke="#3a3a3a" stroke-width="1.0"/>
<line x1="480.20" y1="489.00" x2="480.20" y2="517.50" stroke="#333" stroke-width="0.9" stroke-dasharray="3.7 2.7"/>
<line x1="480.20" y1="541.10" x2="480.20" y2="539.20" stroke="#333" stroke-width="0.9" stroke-dasharray="3.7 2.7"/>
<line x1="467.58" y1="489.00" x2="492.82" y2="489.00" stroke="#555" stroke-width="1.0"/>
<line x1="467.58" y1="541.10" x2="492.82" y2="541.10" stroke="#555" stroke-width="1.0"/>
<rect x="454.96" y="517.50" width="50.48" height="21.70" fill="#fff" stroke="#444" stroke-width="1.0" rx="0.5"/>
<line x1="454.96" y1="533.80" x2="505.44" y2="533.80" stroke="#111" stroke-width="2.0"/>
<circle cx="480.20" cy="541.30" r="2.2" fill="none" stroke="#3a3a3a" stroke-width="1.0"/>
<circle cx="480.20" cy="451.90" r="2.2" fill="none" stroke="#3a3a3a" stroke-width="1.0"/>
<circle cx="480.20" cy="437.50" r="2.2" fill="none" stroke="#3a3a3a" stroke-width="1.0"/>
<text x="383.73" y="409.90" transform="rotate(0.03 383.73 409.90)" font-size="17" fill="#000" stroke="#000" stroke-width="0.1" textLength="17.80" lengthAdjust="spacingAndGlyphs">SF</text>
<text x="426.25" y="418.55" transform="rotate(0.03 426.25 418.55)" font-size="11.5" fill="#000" stroke="#000" stroke-width="0" font-weight="bold" textLength="49.18" lengthAdjust="spacingAndGlyphs">p&lt;0.0005</text>
<rect x="543.70" y="388.70" width="135.60" height="159.50" fill="none" stroke="#555" stroke-width="1.1" rx="0.6"/>
<line x1="580.11" y1="548.20" x2="642.89" y2="548.20" stroke="#444" stroke-width="1.0"/>
<line x1="580.11" y1="548.20" x2="580.11" y2="554.50" stroke="#444" stroke-width="1.0"/>
<line x1="642.89" y1="548.20" x2="642.89" y2="554.50" stroke="#444" stroke-width="1.0"/>
<line x1="537.40" y1="544.10" x2="543.70" y2="544.10" stroke="#444" stroke-width="1.0"/>
<text x="531.90" y="547.80" transform="rotate(0.03 531.90 547.80)" font-size="9.6" text-anchor="end" fill="#111">0</text>
<line x1="537.40" y1="520.95" x2="543.70" y2="520.95" stroke="#444" stroke-width="1.0"/>
<text x="531.90" y="524.65" transform="rotate(0.03 531.90 524.65)" font-size="9.6" text-anchor="end" fill="#111">5</text>
<line x1="537.40" y1="497.80" x2="543.70" y2="497.80" stroke="#444" stroke-width="1.0"/>
<text x="531.90" y="501.50" transform="rotate(0.03 531.90 501.50)" font-size="9.6" text-anchor="end" fill="#111">10</text>
<line x1="537.40" y1="474.65" x2="543.70" y2="474.65" stroke="#444" stroke-width="1.0"/>
<text x="531.90" y="478.35" transform="rotate(0.03 531.90 478.35)" font-size="9.6" text-anchor="end" fill="#111">15</text>
<line x1="537.40" y1="451.50" x2="543.70" y2="451.50" stroke="#444" stroke-width="1.0"/>
<text x="531.90" y="455.20" transform="rotate(0.03 531.90 455.20)" font-size="9.6" text-anchor="end" fill="#111">20</text>
<line x1="537.40" y1="428.35" x2="543.70" y2="428.35" stroke="#444" stroke-width="1.0"/>
<text x="531.90" y="432.05" transform="rotate(0.03 531.90 432.05)" font-size="9.6" text-anchor="end" fill="#111">25</text>
<line x1="537.40" y1="405.20" x2="543.70" y2="405.20" stroke="#444" stroke-width="1.0"/>
<text x="531.90" y="408.90" transform="rotate(0.03 531.90 408.90)" font-size="9.6" text-anchor="end" fill="#111">30</text>
<line x1="580.11" y1="536.10" x2="580.11" y2="538.60" stroke="#333" stroke-width="0.9" stroke-dasharray="3.7 2.7"/>
<line x1="580.11" y1="541.60" x2="580.11" y2="541.10" stroke="#333" stroke-width="0.9" stroke-dasharray="3.7 2.7"/>
<line x1="567.56" y1="536.10" x2="592.67" y2="536.10" stroke="#555" stroke-width="1.0"/>
<line x1="567.56" y1="541.60" x2="592.67" y2="541.60" stroke="#555" stroke-width="1.0"/>
<rect x="555.00" y="538.60" width="50.22" height="2.50" fill="#fff" stroke="#444" stroke-width="1.0" rx="0.5"/>
<line x1="555.00" y1="539.90" x2="605.22" y2="539.90" stroke="#111" stroke-width="1.8"/>
<circle cx="580.11" cy="535.70" r="2.2" fill="none" stroke="#3a3a3a" stroke-width="1.0"/>
<circle cx="580.11" cy="535.40" r="2.2" fill="none" stroke="#3a3a3a" stroke-width="1.0"/>
<circle cx="580.11" cy="524.50" r="2.2" fill="none" stroke="#3a3a3a" stroke-width="1.0"/>
<circle cx="580.11" cy="466.50" r="2.2" fill="none" stroke="#3a3a3a" stroke-width="1.0"/>
<circle cx="580.11" cy="394.70" r="2.2" fill="none" stroke="#3a3a3a" stroke-width="1.0"/>
<circle cx="580.11" cy="542.20" r="2.2" fill="none" stroke="#3a3a3a" stroke-width="1.0"/>
<circle cx="580.11" cy="542.00" r="2.2" fill="none" stroke="#3a3a3a" stroke-width="1.0"/>
<line x1="642.89" y1="528.40" x2="642.89" y2="533.70" stroke="#333" stroke-width="0.9" stroke-dasharray="3.7 2.7"/>
<line x1="642.89" y1="541.30" x2="642.89" y2="540.20" stroke="#333" stroke-width="0.9" stroke-dasharray="3.7 2.7"/>
<line x1="630.33" y1="528.40" x2="655.44" y2="528.40" stroke="#555" stroke-width="1.0"/>
<line x1="630.33" y1="541.30" x2="655.44" y2="541.30" stroke="#555" stroke-width="1.0"/>
<rect x="617.78" y="533.70" width="50.22" height="6.50" fill="#fff" stroke="#444" stroke-width="1.0" rx="0.5"/>
<line x1="617.78" y1="538.20" x2="668.00" y2="538.20" stroke="#111" stroke-width="1.9"/>
<circle cx="642.89" cy="527.30" r="2.2" fill="none" stroke="#3a3a3a" stroke-width="1.0"/>
<circle cx="642.89" cy="489.90" r="2.2" fill="none" stroke="#3a3a3a" stroke-width="1.0"/>
<circle cx="642.89" cy="542.00" r="2.2" fill="none" stroke="#3a3a3a" stroke-width="1.0"/>
<text x="548.83" y="409.70" transform="rotate(0.03 548.83 409.70)" font-size="17" fill="#000" stroke="#000" stroke-width="0.1" textLength="26.20" lengthAdjust="spacingAndGlyphs">TAT</text>
<text x="594.81" y="418.55" transform="rotate(0.03 594.81 418.55)" font-size="11.5" fill="#000" stroke="#000" stroke-width="0" font-weight="bold" textLength="36.30" lengthAdjust="spacingAndGlyphs">p&lt;0.05</text>
<text x="73.92" y="573.90" transform="rotate(0.03 73.92 573.90)" font-size="18" fill="#000" stroke="#000" stroke-width="0.2" textLength="34.79" lengthAdjust="spacingAndGlyphs">alive</text>
<text x="136.99" y="573.90" transform="rotate(0.03 136.99 573.90)" font-size="18" fill="#000" stroke="#000" stroke-width="0.2" textLength="37.85" lengthAdjust="spacingAndGlyphs">dead</text>
<text x="234.90" y="573.90" transform="rotate(0.03 234.90 573.90)" font-size="18" fill="#000" stroke="#000" stroke-width="0.2" textLength="35.55" lengthAdjust="spacingAndGlyphs">alive</text>
<text x="297.97" y="573.90" transform="rotate(0.03 297.97 573.90)" font-size="18" fill="#000" stroke="#000" stroke-width="0.2" textLength="38.69" lengthAdjust="spacingAndGlyphs">dead</text>
<text x="401.71" y="573.90" transform="rotate(0.03 401.71 573.90)" font-size="18" fill="#000" stroke="#000" stroke-width="0.2" textLength="35.32" lengthAdjust="spacingAndGlyphs">alive</text>
<text x="462.97" y="573.90" transform="rotate(0.03 462.97 573.90)" font-size="18" fill="#000" stroke="#000" stroke-width="0.2" textLength="38.69" lengthAdjust="spacingAndGlyphs">dead</text>
<text x="564.37" y="573.90" transform="rotate(0.03 564.37 573.90)" font-size="18" fill="#000" stroke="#000" stroke-width="0.2" textLength="36.24" lengthAdjust="spacingAndGlyphs">alive</text>
<text x="626.35" y="573.90" transform="rotate(0.03 626.35 573.90)" font-size="18" fill="#000" stroke="#000" stroke-width="0.2" textLength="38.68" lengthAdjust="spacingAndGlyphs">dead</text>
</g>
<text transform="translate(19.90,471.10) rotate(-89.97)" font-size="20.5" fill="#111" text-anchor="middle" textLength="40.60" lengthAdjust="spacingAndGlyphs">DOD</text>
</svg>
</body></html>
